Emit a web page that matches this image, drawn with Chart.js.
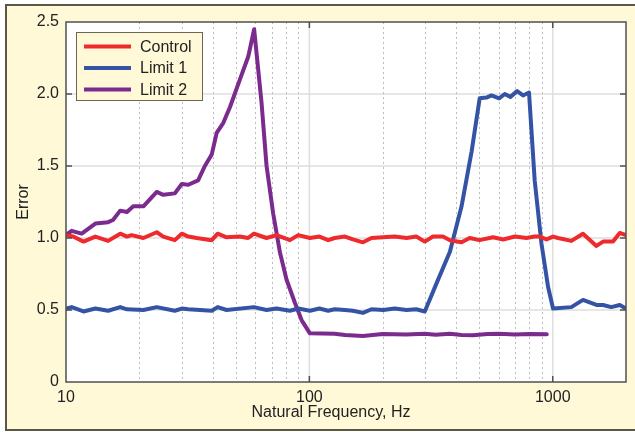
<!DOCTYPE html>
<html>
<head>
<meta charset="utf-8">
<script src="https://cdn.jsdelivr.net/npm/chart.js@4/dist/chart.umd.min.js"></script>
<style>
  html, body { margin: 0; padding: 0; background: #fff; }
  #frame {
    position: absolute; left: 5px; top: 4px; width: 640px; height: 423px;
    background: #fff9d8; border: 2px solid #5b5748; border-right: none;
  }
  #wrap { position: absolute; left: 0; top: 0; width: 635px; height: 432px; }
</style>
</head>
<body>
<div id="frame"></div>
<div id="wrap"><canvas id="chart" width="635" height="432"></canvas></div>
<script>
// Error vs natural frequency for the three cases
const controlFreq = [10, 10.7, 11.8, 13.2, 14.9, 16.7, 17.8, 18.6, 20.8, 23.6, 25.1, 28, 29.9, 31.8, 34.4,
  39.7, 42, 45.7, 51.8, 56, 59.2, 66.7, 73.3, 83.2, 90, 100.5, 110, 119.5, 127, 140, 151, 166, 180,
  201, 224, 251, 275, 298, 322, 354, 378, 422, 456, 500, 569, 625, 700, 780, 843, 884, 943, 1003,
  1051, 1193, 1331, 1512, 1609, 1769, 1885, 2000];
const controlErr = [1.02, 1.01, 0.975, 1.01, 0.98, 1.03, 1.01, 1.02, 1.0, 1.04, 1.01, 0.985, 1.03, 1.01, 1.0,
  0.985, 1.03, 1.005, 1.01, 1.0, 1.03, 1.0, 1.02, 0.985, 1.02, 1.0, 1.01, 0.985, 1.0, 1.01, 0.99, 0.97, 1.0,
  1.005, 1.01, 1.0, 1.01, 0.975, 1.01, 1.01, 0.985, 0.97, 1.0, 0.985, 1.005, 0.99, 1.01, 1.0, 1.01, 1.01, 0.99, 1.01,
  1.0, 0.98, 1.03, 0.945, 0.975, 0.975, 1.035, 1.02];

const limit1Freq = [10, 10.55, 11.8, 13.2, 14.9, 16.7, 17.8, 20.8, 23.6, 28, 29.9, 31.8, 39.7, 42, 45.7,
  59.2, 66.7, 73.3, 83.2, 90, 100.5, 110, 119.5, 127, 140, 151, 166, 180, 201, 224, 251, 275, 298,
  333, 378, 422, 464, 501, 534, 560, 602, 635, 670, 714, 755, 799, 843, 899, 957, 1003, 1193, 1331,
  1512, 1609, 1741, 1885, 2000];
const limit1Err = [0.51, 0.52, 0.49, 0.51, 0.495, 0.52, 0.505, 0.5, 0.52, 0.495, 0.51, 0.505, 0.495, 0.52, 0.5,
  0.52, 0.5, 0.51, 0.495, 0.51, 0.495, 0.51, 0.495, 0.505, 0.5, 0.495, 0.48, 0.505, 0.5, 0.51, 0.5, 0.505, 0.49,
  0.685, 0.905, 1.22, 1.60, 1.97, 1.975, 1.99, 1.97, 2.0, 1.98, 2.02, 1.99, 2.01, 1.40, 0.96, 0.66, 0.51, 0.52, 0.57,
  0.535, 0.535, 0.52, 0.535, 0.51];

const limit2Freq = [10, 10.55, 11.6, 13.2, 14.9, 15.6, 16.7, 17.8, 18.9, 20.8, 23.6, 25.1, 28, 29.9, 31.8,
  34.9, 37.2, 39.7, 41.6, 44.3, 47.2, 51.8, 56.1, 59.3, 63.6, 66.7, 71, 75.7, 80.6, 87.2, 92.9, 100.5,
  127, 140, 166, 200, 250, 298, 330, 378, 422, 470, 540, 600, 700, 800, 945];
const limit2Err = [1.02, 1.05, 1.03, 1.10, 1.11, 1.125, 1.19, 1.18, 1.22, 1.22, 1.32, 1.30, 1.31, 1.375, 1.37,
  1.40, 1.50, 1.58, 1.73, 1.80, 1.91, 2.10, 2.26, 2.45, 1.94, 1.50, 1.17, 0.90, 0.71, 0.55, 0.43, 0.338,
  0.335, 0.326, 0.32, 0.333, 0.33, 0.335, 0.328, 0.335, 0.326, 0.325, 0.333, 0.335, 0.33, 0.333, 0.332];

const xMajor = [10, 100, 1000];
const xMinor = [20, 30, 40, 50, 60, 70, 80, 90, 200, 300, 400, 500, 600, 700, 800, 900];
const yTicks = [0, 0.5, 1.0, 1.5, 2.0, 2.5];

const FONT = '"Liberation Sans", Arial, sans-serif';

function pts(xs, ys) {
  return xs.map((f, i) => ({ x: f, y: ys[i] }));
}

function seg(ctx, x1, y1, x2, y2) {
  ctx.beginPath();
  ctx.moveTo(x1, y1);
  ctx.lineTo(x2, y2);
  ctx.stroke();
}

// grid behind the lines, frame/ticks/legend/titles on top
const axesBox = {
  id: 'axesBox',
  beforeDatasetsDraw(chart) {
    const { ctx, chartArea: a, scales: { x, y } } = chart;
    ctx.save();
    ctx.fillStyle = '#fff';
    ctx.fillRect(a.left, a.top, a.right - a.left, a.bottom - a.top);
    ctx.strokeStyle = '#dedede';
    ctx.lineWidth = 1.5;
    yTicks.slice(1, -1).forEach(v => {
      const py = y.getPixelForValue(v);
      seg(ctx, a.left, py, a.right, py);
    });
    xMajor.slice(1).forEach(v => {
      const px = x.getPixelForValue(v);
      seg(ctx, px, a.top, px, a.bottom);
    });
    ctx.strokeStyle = '#bdbdbd';
    ctx.lineWidth = 1;
    ctx.setLineDash([2, 3]);
    xMinor.forEach(v => {
      const px = Math.round(x.getPixelForValue(v)) + 0.5;
      seg(ctx, px, a.top, px, a.bottom);
    });
    ctx.restore();
  },
  afterDatasetsDraw(chart) {
    const { ctx, chartArea: a, scales: { x, y } } = chart;
    ctx.save();
    ctx.strokeStyle = '#505050';
    ctx.lineWidth = 1.5;
    ctx.strokeRect(a.left, a.top, a.right - a.left, a.bottom - a.top);

    // inward ticks on all four sides
    const t = 6;
    xMajor.slice(1).forEach(v => {
      const px = x.getPixelForValue(v);
      seg(ctx, px, a.bottom, px, a.bottom - t);
      seg(ctx, px, a.top, px, a.top + t);
    });
    yTicks.slice(1, -1).forEach(v => {
      const py = y.getPixelForValue(v);
      seg(ctx, a.left, py, a.left + t, py);
      seg(ctx, a.right, py, a.right - t, py);
    });

    // axis titles
    ctx.fillStyle = '#222';
    ctx.font = '16px ' + FONT;
    ctx.textAlign = 'center';
    ctx.textBaseline = 'middle';
    ctx.fillText('Natural Frequency, Hz', 331, 413);
    ctx.save();
    ctx.translate(24, (a.top + a.bottom) / 2);
    ctx.rotate(-Math.PI / 2);
    ctx.fillText('Error', 0, 0);
    ctx.restore();

    // legend box
    const lx = 76.5, ly = 32.5, lw = 126, lh = 68;
    ctx.fillStyle = '#fff9d8';
    ctx.fillRect(lx, ly, lw, lh);
    ctx.strokeStyle = '#6b6655';
    ctx.lineWidth = 1;
    ctx.strokeRect(lx, ly, lw, lh);
    ctx.textAlign = 'left';
    chart.data.datasets.forEach((ds, i) => {
      const ry = 46.5 + i * 21.5;
      ctx.strokeStyle = ds.borderColor;
      ctx.lineWidth = 4;
      seg(ctx, 84, ry, 131, ry);
      ctx.fillStyle = '#222';
      ctx.fillText(ds.label, 140, ry + 1);
    });
    ctx.restore();
  }
};

new Chart(document.getElementById('chart'), {
  type: 'line',
  data: {
    datasets: [
      { label: 'Control', data: pts(controlFreq, controlErr), borderColor: '#ee2a2c' },
      { label: 'Limit 1', data: pts(limit1Freq, limit1Err), borderColor: '#3553a5' },
      { label: 'Limit 2', data: pts(limit2Freq, limit2Err), borderColor: '#7b2a8e' }
    ]
  },
  options: {
    responsive: false,
    animation: false,
    layout: { padding: { left: 0, top: 22, right: 9, bottom: 0 } },
    elements: {
      line: { borderWidth: 4, tension: 0, borderJoinStyle: 'round', borderCapStyle: 'round' },
      point: { radius: 0 }
    },
    plugins: { legend: { display: false }, tooltip: { enabled: false } },
    scales: {
      x: {
        type: 'logarithmic',
        min: 10,
        max: 2000,
        afterBuildTicks: s => { s.ticks = xMajor.map(v => ({ value: v })); },
        afterFit: s => { s.height = 50; },
        grid: { display: false, drawTicks: false },
        border: { display: false },
        ticks: {
          autoSkip: false,
          maxRotation: 0,
          padding: 6,
          color: '#222',
          font: { family: FONT, size: 16 },
          callback: v => String(v)
        }
      },
      y: {
        min: 0,
        max: 2.5,
        afterBuildTicks: s => { s.ticks = yTicks.map(v => ({ value: v })); },
        afterFit: s => { s.width = 66; },
        grid: { display: false, drawTicks: false },
        border: { display: false },
        ticks: {
          padding: 7,
          color: '#222',
          font: { family: FONT, size: 16 },
          callback: v => (v === 0 ? '0' : v.toFixed(1))
        }
      }
    }
  },
  plugins: [axesBox]
});
</script>
</body>
</html>
